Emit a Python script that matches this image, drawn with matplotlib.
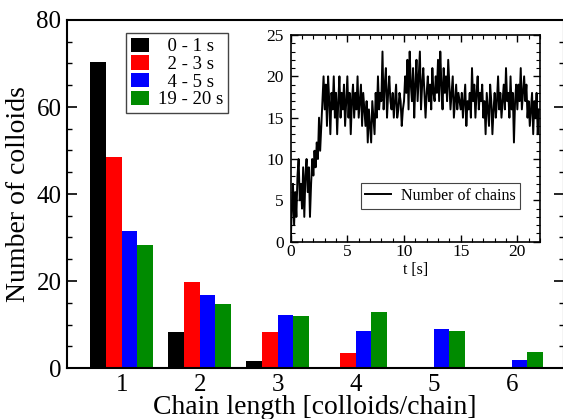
import matplotlib
matplotlib.use("Agg")
import matplotlib.pyplot as plt
import numpy as np

plt.rcParams["font.family"] = ["Liberation Serif", "DejaVu Serif"]
plt.rcParams["mathtext.fontset"] = "stix"

# Histogram of chain lengths for several time windows
chain_length = [1, 2, 3, 4, 5, 6]
window_labels = ["0 - 1 s", "2 - 3 s", "4 - 5 s", "19 - 20 s"]
counts_0_1 = [70.3, 8.3, 1.5, 0.0, 0.0, 0.0]
counts_2_3 = [48.5, 19.8, 8.2, 3.5, 0.0, 0.0]
counts_4_5 = [31.5, 16.8, 12.2, 8.5, 8.9, 1.8]
counts_19_20 = [28.3, 14.6, 12.0, 12.9, 8.4, 3.7]
bar_colors = ["#000000", "#ff0000", "#0000ff", "#008b00"]

# Number of chains over time, sampled every 0.1 s
time_step = 0.1
n_chains = [
    0, 4, 7, 2, 6, 3, 8, 10, 5, 7,
    4, 9, 3, 8, 10, 6, 9, 3, 7, 10,
    8, 11, 9, 12, 10, 15, 11, 14, 17, 20,
    16, 19, 14, 20, 17, 13, 18, 16, 20, 15,
    18, 13, 17, 20, 15, 18, 16, 19, 14, 17,
    20, 15, 18, 13, 17, 19, 15, 18, 16, 20,
    15, 17, 19, 14, 18, 16, 14, 17, 12, 16,
    14, 12, 17, 15, 13, 18, 15, 20, 16, 18,
    17, 23, 16, 19, 21, 15, 18, 20, 17, 16,
    18, 15, 17, 19, 15, 16, 18, 17, 14, 16,
    17, 20, 18, 22, 16, 23, 19, 17, 21, 15,
    19, 22, 17, 20, 23, 16, 19, 21, 18, 15,
    18, 20, 17, 19, 16, 21, 18, 17, 20, 18,
    22, 17, 23, 19, 16, 21, 18, 20, 17, 22,
    19, 16, 18, 20, 15, 17, 19, 16, 18, 17,
    16, 18, 15, 17, 19, 14, 17, 16, 18, 15,
    21, 17, 19, 15, 18, 20, 16, 18, 17, 19,
    15, 17, 13, 18, 16, 14, 19, 17, 13, 16,
    18, 15, 17, 20, 16, 18, 15, 17, 19, 16,
    21, 17, 18, 15, 20, 16, 18, 12, 17, 19,
    16, 19, 17, 21, 16, 18, 20, 17, 19, 15,
    17, 14, 16, 18, 13, 17, 15, 18, 13, 16,
]
t = np.arange(len(n_chains)) * time_step

W, H = 563, 419
fig = plt.figure(figsize=(W / 100, H / 100), dpi=100)

# Main histogram axes (right edge sits just past the canvas)
ax = fig.add_axes([67 / W, (H - 368) / H, (564 - 67) / W, (368 - 20) / H])
series = [counts_0_1, counts_2_3, counts_4_5, counts_19_20]
bar_w = 0.2
x = np.array(chain_length, dtype=float)
for i, (vals, col, lab) in enumerate(zip(series, bar_colors, window_labels)):
    ax.bar(x + (i - 1.5) * bar_w, vals, width=bar_w, color=col,
           label=lab, linewidth=0)

ax.set_xlim(0.3, 6.67)
ax.set_ylim(0, 80)
ax.set_xticks(chain_length)
ax.set_yticks([0, 20, 40, 60, 80])
ax.set_yticks(np.arange(0, 81, 5), minor=True)
ax.tick_params(axis="x", length=0, labelsize=18, pad=4)
ax.tick_params(axis="y", which="major", direction="in", length=7,
               width=1.2, labelsize=18, pad=4, right=True)
ax.tick_params(axis="y", which="minor", direction="in", length=3.5,
               width=1.0, right=True)
for s in ax.spines.values():
    s.set_linewidth(1.5)
ax.set_xlabel("Chain length [colloids/chain]", fontsize=20)
ax.xaxis.label.set_verticalalignment("baseline")
ax.xaxis.set_label_coords((315 - 67) / 497, -(414 - 368) / 348)
ax.set_ylabel("Number of colloids", fontsize=20, labelpad=4)

# Pad the shorter labels so the legend texts look centred
max_len = max(len(s) for s in window_labels)
handles, labels = ax.get_legend_handles_labels()
labels = [" " * (max_len - len(s)) + s for s in labels]
leg = ax.legend(handles, labels, loc="upper left",
                bbox_to_anchor=((126 - 67) / 497, (368 - 33) / 348),
                borderaxespad=0, fontsize=13.5, frameon=True, fancybox=False,
                edgecolor="#444444", framealpha=1, labelspacing=0.0,
                handlelength=0.95, handleheight=0.8, handletextpad=0.5,
                borderpad=0.25)
leg.get_frame().set_linewidth(1.0)

# Inset: number of chains vs time
ins = fig.add_axes([290.7 / W, (H - 241.7) / H, (540 - 290.7) / W,
                    (241.7 - 35) / H])
ins.plot(t, n_chains, color="black", linewidth=1.4, label="Number of chains")
ins.set_xlim(0, 22)
ins.set_ylim(0, 25)
ins.set_xticks([0, 5, 10, 15, 20])
ins.set_xticks(np.arange(0, 23, 1), minor=True)
ins.set_yticks([0, 5, 10, 15, 20, 25])
ins.set_yticks(np.arange(0, 26, 1), minor=True)
ins.tick_params(which="both", direction="in", top=True, right=True)
ins.tick_params(which="major", length=5, width=1.0, labelsize=12.5)
ins.tick_params(which="minor", length=3, width=0.8)
ins.tick_params(axis="x", pad=2)
ins.tick_params(axis="y", pad=5)
for s in ins.spines.values():
    s.set_linewidth(1.2)
ins.set_xlabel("t [s]", fontsize=11.5, labelpad=1)
ileg = ins.legend(loc="upper right", bbox_to_anchor=(0.92, 0.284),
                  borderaxespad=0, fontsize=11.5, frameon=True, fancybox=False,
                  edgecolor="#444444", framealpha=1, handlelength=1.6,
                  handletextpad=0.6, borderpad=0.3)
ileg.get_frame().set_linewidth(0.8)

fig.savefig("out.png", dpi=100)
